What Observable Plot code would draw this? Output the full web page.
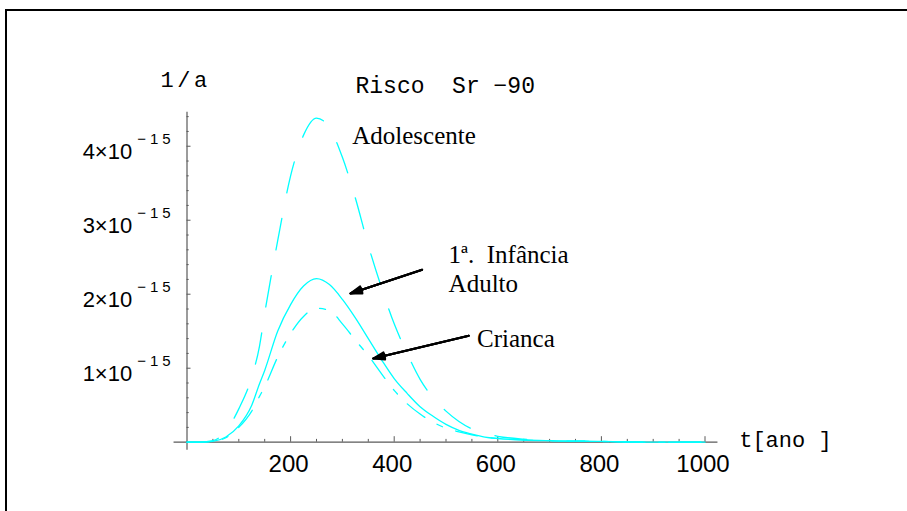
<!DOCTYPE html>
<html><head><meta charset="utf-8">
<script src="https://cdn.jsdelivr.net/npm/d3@7"></script>
<script src="https://cdn.jsdelivr.net/npm/@observablehq/plot@0.6"></script>
<style>
html,body{margin:0;padding:0;background:#fff;}
#wrap{position:relative;width:907px;height:511px;overflow:hidden;}
#chart svg{position:absolute;left:0;top:0;}
#border{position:absolute;left:5px;top:9px;right:-10px;bottom:-10px;border-top:2px solid #000;border-left:2px solid #000;pointer-events:none;}
</style></head>
<body><div id="wrap"><div id="chart"></div><div id="border"></div></div>
<script>
// ---- data (risk values in units of 1e-15 per year) ----
const years       = [0, 25, 50, 75, 100, 125, 140, 150, 175, 200, 225, 250, 275, 300, 325, 350, 375, 400, 425, 450, 475, 500, 525, 550, 575, 600, 650, 700, 800, 900, 1000];
const adolescente = [0, 0, 0.02, 0.15, 0.45, 0.88, 1.30, 1.74, 2.72, 3.60, 4.15, 4.38, 4.25, 3.85, 3.30, 2.66, 2.10, 1.60, 1.20, 0.85, 0.60, 0.42, 0.28, 0.18, 0.12, 0.08, 0.04, 0.02, 0.01, 0, 0];
const adultoInfancia = [0, 0, 0.01, 0.07, 0.22, 0.50, 0.79, 0.97, 1.50, 1.86, 2.11, 2.21, 2.13, 1.93, 1.68, 1.40, 1.12, 0.86, 0.66, 0.48, 0.35, 0.24, 0.16, 0.11, 0.07, 0.05, 0.03, 0.02, 0.01, 0, 0];
const crianca     = [0, 0, 0.01, 0.06, 0.20, 0.42, 0.62, 0.75, 1.15, 1.47, 1.70, 1.81, 1.78, 1.60, 1.38, 1.17, 0.93, 0.70, 0.52, 0.38, 0.27, 0.19, 0.14, 0.10, 0.07, 0.05, 0.03, 0.02, 0.01, 0, 0];

const xTickLabels = [200, 400, 600, 800, 1000];
const xMinorTicks = [50, 100, 150, 250, 300, 350, 450, 500, 550, 650, 700, 750, 850, 900, 950];
const yTickLabels = [1, 2, 3, 4];
const yMinorTicks = [0.2, 0.4, 0.6, 0.8, 1.2, 1.4, 1.6, 1.8, 2.2, 2.4, 2.6, 2.8, 3.2, 3.4, 3.6, 3.8, 4.2, 4.4];
const yExponent = "−15";

const title = "Risco  Sr −90";
const yLabel = "1/a";
const xLabel = "t[ano ]";

// annotation anchors in data units (t, value)
const seriesLabels = [
  {text: "Adolescente", t: 319, v: 4.03},
  {text: "1ª.  Infância\nAdulto", t: 505, v: 2.03},
  {text: "Crianca", t: 560, v: 1.28}
];
const arrows = [
  {t1: 454, v1: 2.33, t2: 315.6, v2: 2.01},
  {t1: 544, v1: 1.44, t2: 359.5, v2: 1.13}
];

// ---- layout ----
const W = 907, H = 511;
const mL = 186.5, mR = 202.5, mT = 111.7, mB = 69.3;
const yMax = 4.46;
const pxT = (W - mL - mR) / 1000;
const pxV = (H - mT - mB) / yMax;

const rows = years.map((t, i) => ({t, adolescente: adolescente[i], adulto: adultoInfancia[i], crianca: crianca[i]}));
const axisColor = "#5a5a5a";
const cyan = "#00ffff";
const SANS = "Liberation Sans, Arial, sans-serif";
const SERIF = "Liberation Serif, Times New Roman, serif";
const MONO = "Liberation Mono, Courier New, monospace";

const arrowMarks = [36, 24, 12].map(a => Plot.arrow(arrows, {
  x1: "t1", y1: "v1", x2: "t2", y2: "v2", stroke: "black", strokeWidth: 2,
  headLength: 9, headAngle: a
}));

const chart = Plot.plot({
  width: W, height: H,
  marginLeft: mL, marginRight: mR, marginTop: mT, marginBottom: mB,
  x: {domain: [0, 1000], axis: null},
  y: {domain: [0, yMax], axis: null},
  style: {background: "transparent", overflow: "visible"},
  marks: [
    // axes
    Plot.ruleY([0], {x1: -25, x2: 1025, stroke: axisColor, strokeWidth: 1.2}),
    Plot.ruleX([0], {y1: -0.11, y2: yMax, stroke: axisColor, strokeWidth: 1.2}),
    Plot.ruleX(xTickLabels, {x: d => d, y1: 0, y2: 5.5 / pxV, stroke: axisColor}),
    Plot.ruleX(xMinorTicks, {x: d => d, y1: 0, y2: 2.8 / pxV, stroke: axisColor}),
    Plot.ruleY(yTickLabels, {y: d => d, x1: 0, x2: 4 / pxT, stroke: axisColor}),
    Plot.ruleY(yMinorTicks, {y: d => d, x1: 0, x2: 2.2 / pxT, stroke: axisColor}),
    // tick labels
    Plot.text(xTickLabels, {x: d => d, frameAnchor: "bottom", dy: 30, dx: -2, lineAnchor: "bottom",
      text: d => String(d), fontSize: 24, fontFamily: SANS}),
    Plot.text(yTickLabels, {y: d => d, frameAnchor: "left", dx: -54.8, dy: 13, textAnchor: "end",
      lineAnchor: "bottom", text: d => `${d}×10`, fontSize: 22, fontFamily: SANS}),
    Plot.text(yTickLabels, {y: d => d, frameAnchor: "left", dx: -49.8, dy: -2.7, textAnchor: "start",
      lineAnchor: "bottom", text: () => yExponent, fontSize: 15, fontFamily: SANS}),
    // curves
    Plot.line(rows, {x: "t", y: "adulto", stroke: cyan, strokeWidth: 1.3, curve: "monotone-x"}),
    Plot.line(rows, {x: "t", y: "crianca", stroke: cyan, strokeWidth: 1.3, curve: "monotone-x", strokeDasharray: "22,14,6,14"}),
    Plot.line(rows, {x: "t", y: "adolescente", stroke: cyan, strokeWidth: 1.3, curve: "monotone-x", strokeDasharray: "32,26"}),
    // titles
    Plot.text([yLabel], {x: -51.2, y: 4.797, text: d => d, textAnchor: "start", lineAnchor: "bottom", fontSize: 22, fontFamily: MONO}),
    Plot.text([title], {x: 325.3, y: 4.722, text: d => d, textAnchor: "start", lineAnchor: "bottom", fontSize: 23, fontFamily: MONO}),
    Plot.text([xLabel], {x: 1066, y: -0.07, text: d => d, textAnchor: "start", lineAnchor: "bottom", fontSize: 22, fontFamily: MONO}),
    // annotations
    Plot.text(seriesLabels, {x: "t", y: "v", text: "text", textAnchor: "start", lineAnchor: "bottom",
      lineHeight: 1.15, fontSize: 25, fontFamily: SERIF}),
    ...arrowMarks
  ]
});
document.getElementById("chart").appendChild(chart);
d3.select(chart).selectAll("text").each(function () {
  const s = this.textContent;
  if (s === yLabel) this.setAttribute("letter-spacing", "3.5px");
  if (s === yExponent) this.setAttribute("letter-spacing", "4px");
});
</script></body></html>
